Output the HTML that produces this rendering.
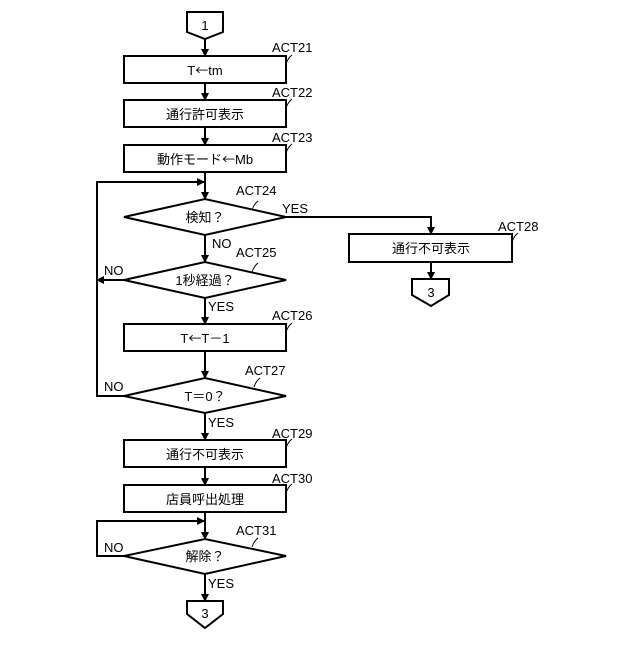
<!DOCTYPE html>
<html><head><meta charset="utf-8"><style>
html,body{margin:0;padding:0;background:#fff;}
svg text{font-family:"Liberation Sans","Noto Sans CJK JP",sans-serif;font-size:13px;fill:#000;}
.cj{font-family:"Noto Sans CJK JP",sans-serif;}
</style></head><body>
<svg width="640" height="640" viewBox="0 0 640 640" xmlns="http://www.w3.org/2000/svg">
<defs><marker id="a" markerWidth="8" markerHeight="8" refX="7" refY="4" orient="auto" markerUnits="userSpaceOnUse"><path d="M0,0 L8,4 L0,8 z" fill="#000"/></marker></defs>
<g stroke="#000" stroke-width="2" fill="none">
<path d="M187,12 H223 V32 L205,39 L187,32 Z"/>
<rect x="124" y="56" width="162" height="27"/>
<rect x="124" y="100" width="162" height="27"/>
<rect x="124" y="145" width="162" height="27"/>
<path d="M124,217 L205,199 L286,217 L205,235 Z"/>
<path d="M124,280 L205,262 L286,280 L205,298 Z"/>
<rect x="124" y="324" width="162" height="27"/>
<path d="M124,396 L205,378 L286,396 L205,413 Z"/>
<rect x="124" y="440" width="162" height="27"/>
<rect x="124" y="485" width="162" height="27"/>
<path d="M124,556 L205,539 L286,556 L205,574 Z"/>
<path d="M187,601 H223 V614 L205,628 L187,614 Z"/>
<rect x="349" y="234" width="163" height="28"/>
<path d="M412,279 H449 V295 L431,306 L412,295 Z"/>
</g>
<g stroke="#000" stroke-width="2" fill="none" marker-end="url(#a)">
<path d="M205,39 V56"/><path d="M205,83 V100"/><path d="M205,127 V145"/>
<path d="M205,172 V199"/><path d="M205,235 V262"/><path d="M205,298 V324"/>
<path d="M205,351 V378"/><path d="M205,413 V440"/><path d="M205,467 V485"/>
<path d="M205,512 V539"/><path d="M205,574 V601"/>
<path d="M124,280 H97"/>
<path d="M124,396 H97 V182 H204"/>
<path d="M124,556 H97 V521 H204"/>
<path d="M286,217 H431 V234"/>
<path d="M431,262 V279"/>
</g>
<g stroke="#000" stroke-width="1" fill="none">
<path d="M286,64 q2,-6 6,-9"/><path d="M286,108 q2,-6 6,-9"/><path d="M286,153 q2,-6 6,-9"/>
<path d="M252,210 q2,-6 6,-9"/><path d="M252,272 q2,-6 6,-9"/><path d="M286,332 q2,-6 6,-9"/>
<path d="M254,387 q2,-6 6,-9"/><path d="M286,448 q2,-6 6,-9"/><path d="M286,493 q2,-6 6,-9"/>
<path d="M252,547 q2,-6 6,-9"/><path d="M512,242 q2,-6 6,-9"/>
</g>
<g text-anchor="middle">
<text x="205" y="30">1</text>
<text x="205" y="75">T<tspan class="cj">←</tspan>tm</text>
<text x="205" y="119">通行許可表示</text>
<text x="205" y="164">動作モード<tspan class="cj">←</tspan>Mb</text>
<text x="205" y="222">検知？</text>
<text x="205" y="285">1秒経過？</text>
<text x="205" y="343">T<tspan class="cj">←</tspan>T<tspan class="cj">－</tspan>1</text>
<text x="205" y="401">T<tspan class="cj">＝</tspan>0？</text>
<text x="205" y="459">通行不可表示</text>
<text x="205" y="504">店員呼出処理</text>
<text x="205" y="561">解除？</text>
<text x="205" y="618">3</text>
<text x="431" y="253">通行不可表示</text>
<text x="431" y="297">3</text>
</g>
<text x="272" y="52">ACT21</text>
<text x="272" y="97">ACT22</text>
<text x="272" y="142">ACT23</text>
<text x="236" y="195">ACT24</text>
<text x="236" y="257">ACT25</text>
<text x="272" y="320">ACT26</text>
<text x="245" y="375">ACT27</text>
<text x="498" y="231">ACT28</text>
<text x="272" y="438">ACT29</text>
<text x="272" y="483">ACT30</text>
<text x="236" y="535">ACT31</text>
<text x="282" y="213">YES</text>
<text x="212" y="248">NO</text>
<text x="104" y="275">NO</text>
<text x="208" y="311">YES</text>
<text x="104" y="391">NO</text>
<text x="208" y="427">YES</text>
<text x="104" y="552">NO</text>
<text x="208" y="588">YES</text>
</svg>
</body></html>
